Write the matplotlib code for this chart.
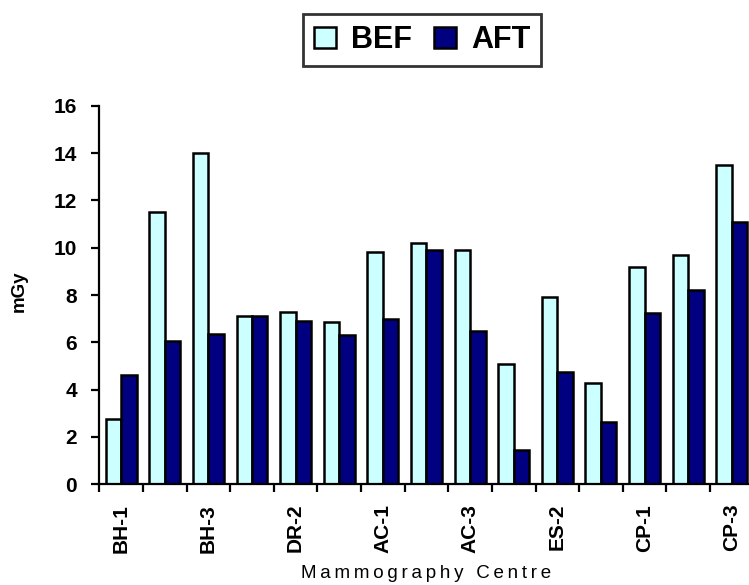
import matplotlib
matplotlib.use("Agg")
import matplotlib.pyplot as plt
import numpy as np

# dose per centre, before and after optimisation (mGy)
centres = ["BH-1", "BH-2", "BH-3", "DR-1", "DR-2", "DR-3", "AC-1", "AC-2",
           "AC-3", "ES-1", "ES-2", "ES-3", "CP-1", "CP-2", "CP-3"]
bef = [2.75, 11.5, 14.0, 7.1, 7.3, 6.85, 9.8, 10.2, 9.9, 5.1, 7.9, 4.3, 9.2, 9.7, 13.5]
aft = [4.6, 6.05, 6.37, 7.1, 6.9, 6.3, 7.0, 9.9, 6.5, 1.45, 4.75, 2.65, 7.25, 8.2, 11.1]

plt.rcParams['font.family'] = ['Liberation Sans', 'DejaVu Sans']

fig = plt.figure(figsize=(7.49, 5.85), dpi=100)
ax = fig.add_axes([0.1326, 0.1721, 0.8736, 0.6472])

x = np.arange(len(centres))
w = 0.355
b1 = ax.bar(x - w / 2, bef, w, color="#CCFFFF", edgecolor="black", linewidth=1.8, label="BEF")
b2 = ax.bar(x + w / 2, aft, w, color="#000080", edgecolor="black", linewidth=1.8, label="AFT")

ax.set_xlim(-0.5, len(centres) - 0.5)
ax.set_ylim(0, 16)
ax.set_yticks(np.arange(0, 17, 2))

for s in ["top", "right"]:
    ax.spines[s].set_visible(False)
for s in ["left", "bottom"]:
    ax.spines[s].set_linewidth(1.6)

# labels on every other centre, tick marks between centres
ax.set_xticks(x[::2])
ax.set_xticklabels(centres[::2], rotation=90, fontsize=15, fontweight="bold")
ax.set_xticks(np.arange(-0.5, len(centres), 1), minor=True)
ax.tick_params(axis="x", which="major", length=0, pad=14)
ax.tick_params(axis="x", which="minor", length=6, width=1.6, direction="out")
ax.tick_params(axis="y", length=6, width=1.6, pad=10, labelsize=15)
for t in ax.get_yticklabels():
    t.set_fontweight("bold")

fig.text(19 / 749, 1 - 291 / 585, "mGy", rotation=90, fontsize=13.5,
         fontweight="bold", ha="center", va="center")
sp = "\u2009"
fig.text(426 / 749, 1 - 574 / 585, sp.join("Mammography Centre"), fontsize=13.5,
         ha="center", va="center")

leg = fig.legend(handles=[b1, b2], loc="center", bbox_to_anchor=(422 / 749, 1 - 40 / 585),
                 ncol=2, fontsize=22, frameon=True, fancybox=False, shadow=False,
                 handlelength=0.72, handleheight=0.7, handletextpad=0.5,
                 columnspacing=0.7, borderpad=0.35, borderaxespad=0)
leg.get_frame().set_edgecolor("black")
leg.get_frame().set_linewidth(2)
for t in leg.get_texts():
    t.set_fontweight("bold")

fig.savefig("out.png", dpi=100)
